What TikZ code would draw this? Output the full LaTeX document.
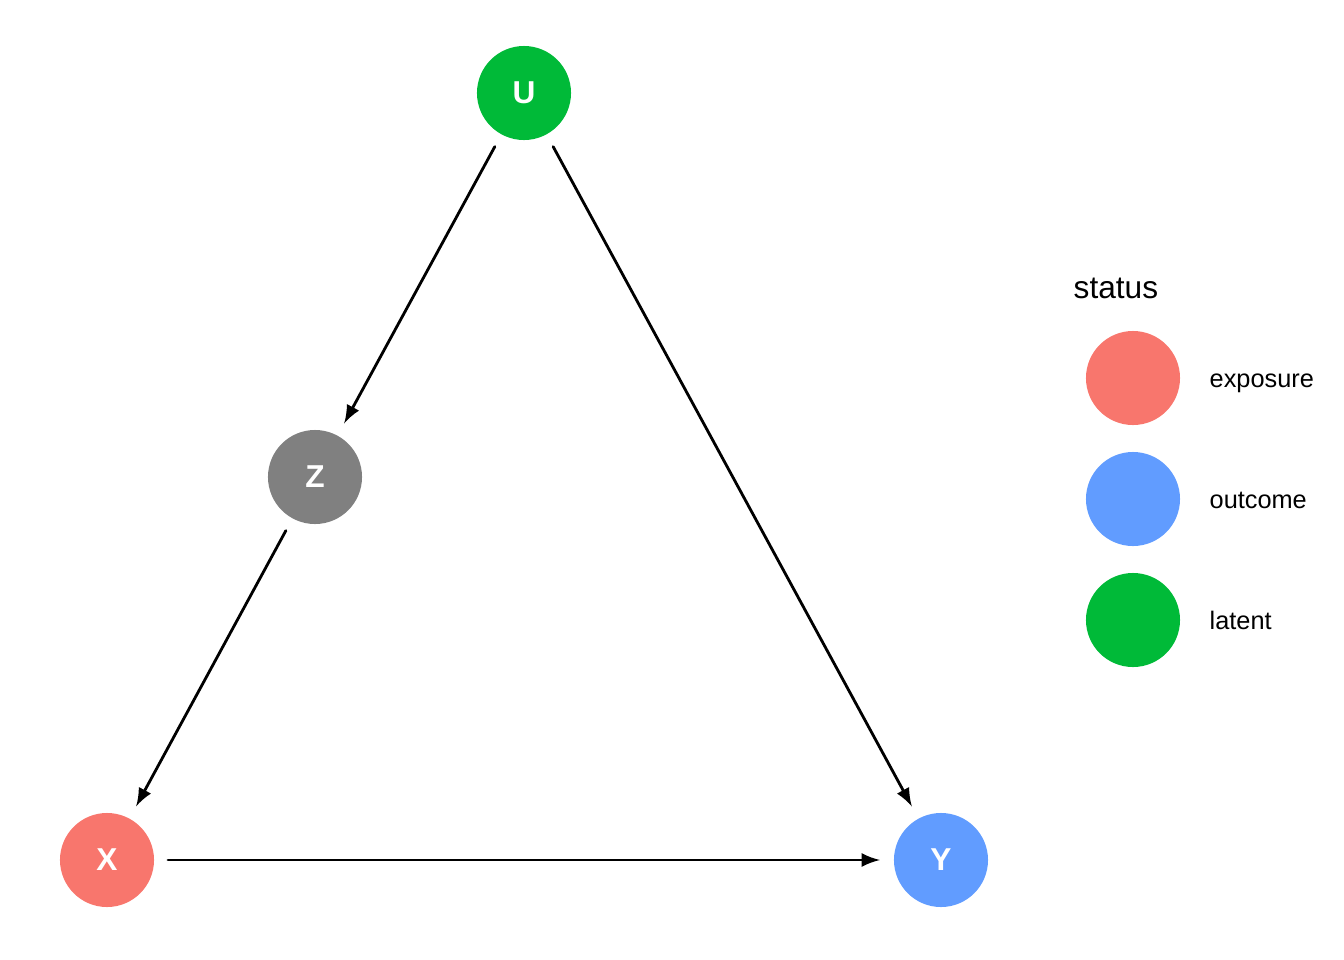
\documentclass[tikz,border=0pt]{standalone}
\usepackage{fontspec}
\setmainfont{Liberation Sans}
\definecolor{exposure}{HTML}{F8766D}
\definecolor{outcome}{HTML}{619CFF}
\definecolor{latent}{HTML}{00BA38}
\definecolor{adjusted}{HTML}{808080}
\begin{document}
\begin{tikzpicture}[x=0.01cm, y=-0.01cm, line join=round, line cap=round, >=latex,
	dagnode/.style={circle, minimum size=0.94cm, inner sep=0pt, outer sep=0.14cm, text=white, font=\bfseries\fontsize{9}{10}\selectfont},
	keydot/.style={circle, minimum size=0.94cm, inner sep=0pt},
	keytext/.style={anchor=base west, inner sep=0pt, font=\fontsize{7.2}{9}\selectfont}]
				\useasboundingbox (0,0) rectangle (1344,960);
				\path
				(524,93) node[dagnode, fill=latent] (U) {U}
				(315,477) node[dagnode, fill=adjusted] (Z) {Z}
				(107,860) node[dagnode, fill=exposure] (X) {X}
				(941,860) node[dagnode, fill=outcome] (Y) {Y}
				;
				\draw[->, line width=0.8pt] (U)--(Z);
				\draw[->, line width=0.8pt] (Z)--(X);
				\draw[->, line width=0.8pt] (U)--(Y);
				\draw[->, line width=0.8pt] (X)--(Y);
				% legend
				\node[anchor=west, inner sep=0pt, font=\fontsize{9}{11}\selectfont] (status) at (1073,288) {status};
				\foreach \k/\y in {exposure/378,outcome/499,latent/620} \node[keydot, fill=\k] (dot-\k) at (1133,\y) {} (1209,\y+9) node[keytext] (txt-\k) {\k};
			\end{tikzpicture}
\end{document}
